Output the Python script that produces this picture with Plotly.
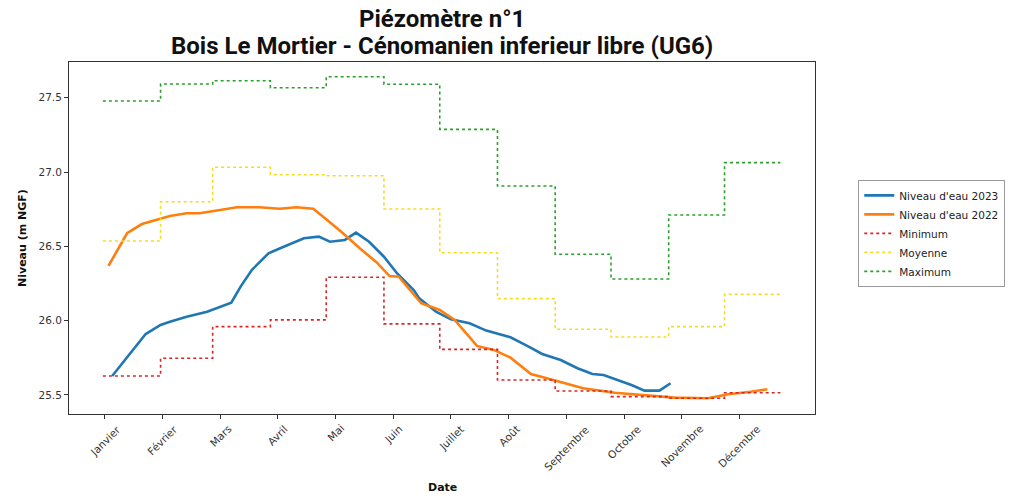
import plotly.graph_objects as go

# ---- data ----
month_labels = ["Janvier", "Février", "Mars", "Avril", "Mai", "Juin", "Juillet",
                "Août", "Septembre", "Octobre", "Novembre", "Décembre"]
month_start_day = [0, 31, 59, 90, 120, 151, 181, 212, 243, 273, 304, 334]
year_last_day = 364
tick_days = [1, 32, 63, 94, 125, 156, 187, 218, 249, 280, 311, 342]
y_ticks = [25.5, 26.0, 26.5, 27.0, 27.5]
y_tick_labels = ["25.5", "26.0", "26.5", "27.0", "27.5"]

minimum = [25.628, 25.747, 25.960, 26.005, 26.292, 25.978, 25.807, 25.601, 25.527, 25.489, 25.478, 25.515]
moyenne = [26.536, 26.800, 27.032, 26.982, 26.975, 26.751, 26.457, 26.148, 25.942, 25.890, 25.960, 26.177]
maximum = [27.478, 27.592, 27.614, 27.567, 27.641, 27.590, 27.287, 26.906, 26.447, 26.280, 26.711, 27.063]

days_2023 = [5, 23, 31, 36, 45, 56, 69, 74, 80, 89, 94, 108, 116, 122, 130, 136, 143, 151, 158,
             167, 170, 179, 187, 197, 206, 219, 228, 236, 246, 255, 263, 269, 284, 291, 299, 305]
level_2023 = [25.628, 25.910, 25.971, 25.993, 26.027, 26.060, 26.121, 26.229, 26.341, 26.453,
              26.480, 26.554, 26.565, 26.531, 26.543, 26.592, 26.531, 26.430, 26.319, 26.206,
              26.150, 26.060, 26.009, 25.982, 25.933, 25.888, 25.830, 25.776, 25.735, 25.680,
              25.641, 25.635, 25.567, 25.529, 25.529, 25.579]

days_2022 = [3, 13, 21, 31, 36, 45, 52, 63, 72, 84, 95, 104, 113, 120, 129, 138, 147, 154, 159,
             165, 171, 181, 189, 201, 210, 219, 230, 242, 258, 275, 289, 307, 325, 336, 348, 357]
level_2022 = [26.368, 26.588, 26.650, 26.689, 26.704, 26.722, 26.722, 26.745, 26.763, 26.763,
              26.753, 26.763, 26.753, 26.682, 26.588, 26.487, 26.393, 26.300, 26.296, 26.206,
              26.117, 26.072, 26.005, 25.830, 25.803, 25.751, 25.641, 25.601, 25.545, 25.515,
              25.500, 25.482, 25.478, 25.505, 25.522, 25.538]

title_line1 = "Piézomètre n°1"
title_line2 = "Bois Le Mortier - Cénomanien inferieur libre (UG6)"

fig = go.Figure()

fig.add_trace(go.Scatter(x=days_2023, y=level_2023, mode="lines", name="Niveau d'eau 2023",
                         line=dict(color="#1f77b4", width=2.6)))
fig.add_trace(go.Scatter(x=days_2022, y=level_2022, mode="lines", name="Niveau d'eau 2022",
                         line=dict(color="#ff7f0e", width=2.6)))

step_x = month_start_day + [year_last_day]
for name, vals, col in [("Minimum", minimum, "#d62728"),
                        ("Moyenne", moyenne, "#f7dc1e"),
                        ("Maximum", maximum, "#2ca02c")]:
    fig.add_trace(go.Scatter(x=step_x, y=vals + [vals[-1]], mode="lines", name=name,
                             line=dict(color=col, width=1.6, dash="dot", shape="hv")))

tick_font = dict(family="DejaVu Sans", size=10.5, color="#333333")
axis_common = dict(showline=True, linecolor="#333333", linewidth=1, mirror=True,
                   ticks="outside", ticklen=4, tickcolor="#333333", showgrid=False,
                   zeroline=False, automargin=False, tickfont=tick_font)

annotations = []
# x tick labels, centred on their ticks like the reference
for d, lab in zip(tick_days, month_labels):
    annotations.append(dict(x=d, xref="x", y=0, yref="paper", text=lab, showarrow=False,
                            textangle=-45, xanchor="center", yanchor="top", yshift=-6,
                            font=tick_font))
# axis titles
annotations.append(dict(x=0.5, xref="paper", y=0, yref="paper", text="<b>Date</b>", showarrow=False,
                        xanchor="center", yanchor="middle", yshift=-73,
                        font=dict(family="DejaVu Sans", size=11, color="#111111")))
annotations.append(dict(x=0, xref="paper", y=0.5, yref="paper", text="<b>Niveau (m NGF)</b>",
                        showarrow=False, textangle=-90, xanchor="center", yanchor="middle",
                        xshift=-47, font=dict(family="DejaVu Sans", size=11, color="#111111")))
# two-line title
title_font = dict(family="Roboto", size=24, color="#111111")
annotations.append(dict(x=0.5, xref="paper", y=1, yref="paper", text="<b>" + title_line1 + "</b>",
                        showarrow=False, xanchor="center", yanchor="middle", yshift=43,
                        font=title_font))
annotations.append(dict(x=0.5, xref="paper", y=1, yref="paper", text="<b>" + title_line2 + "</b>",
                        showarrow=False, xanchor="center", yanchor="middle", yshift=16,
                        font=title_font))

# the page body adds an 8 px margin, so the figure is sized to fit the 1034x501 window
fig.update_layout(
    width=1018, height=485,
    margin=dict(l=61, r=211, t=54, b=79, autoexpand=False),
    paper_bgcolor="white", plot_bgcolor="white",
    xaxis=dict(range=[-18.2, 382.6], tickvals=tick_days, showticklabels=False, **axis_common),
    yaxis=dict(range=[25.372, 27.740], tickvals=y_ticks, ticktext=y_tick_labels, **axis_common),
    legend=dict(x=1.058, y=0.665, xanchor="left", yanchor="top",
                bordercolor="#999999", borderwidth=1, bgcolor="white",
                font=dict(family="DejaVu Sans", size=10.5, color="#222222"),
                tracegroupgap=0, itemwidth=30),
    annotations=annotations,
    showlegend=True,
)

fig.write_html("out.html")
